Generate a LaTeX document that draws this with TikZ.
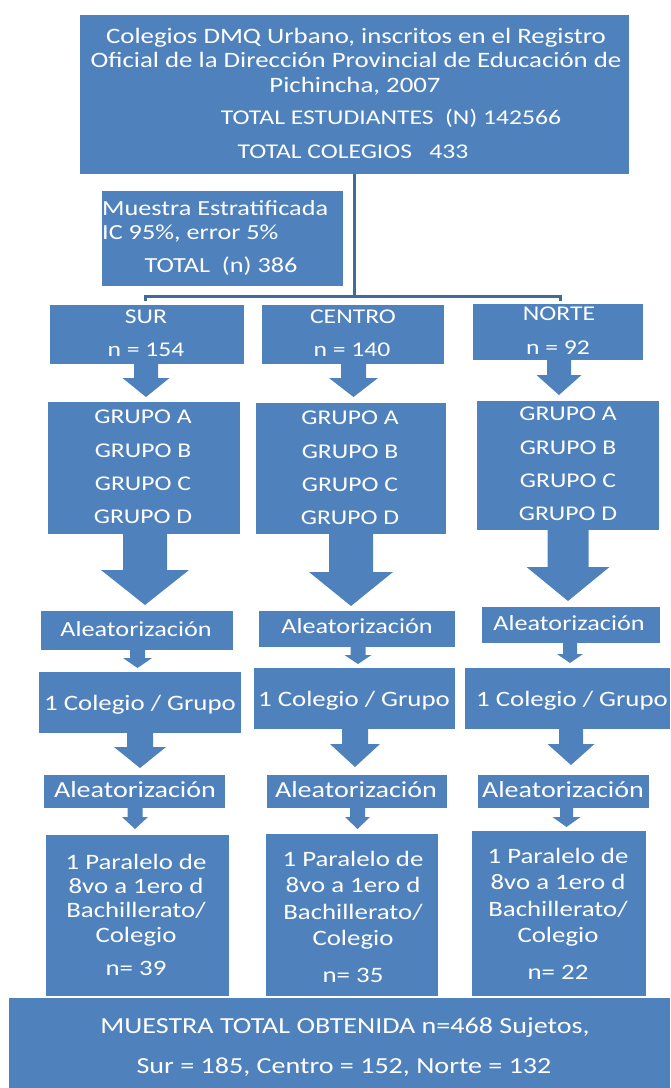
\documentclass[tikz,border=0pt]{standalone}
\usepackage{fontspec}
\setmainfont{Carlito}[FakeStretch=1.22]
\usetikzlibrary{fit}
\definecolor{boxblue}{HTML}{4F81BD}
\definecolor{linkblue}{HTML}{3E6A9C}
\newcommand\bx[5]{\node[box, fit={(#2,#3) (#4,#5)}] (#1) {};}
\newcommand\tx[5]{\node[txt, font=\fontsize{#4}{#4}\selectfont] (#1) at (#2,#3+0.322*#4) {#5};}
\newcommand\txl[5]{\node[txt, anchor=base west, font=\fontsize{#4}{#4}\selectfont] (#1) at (#2,#3+0.322*#4) {#5};}
\newcommand\barrow[6]{\fill[blockarrow] (#1-#2,#4) -- (#1+#2,#4) -- (#1+#2,#5) -- (#1+#3,#5) -- (#1,#6) -- (#1-#3,#5) -- (#1-#2,#5) -- cycle;}
\begin{document}
\begin{tikzpicture}[x=1pt,y=-1pt,
  box/.style={fill=boxblue, draw=none, inner sep=0pt},
  txt/.style={text=white, inner sep=0pt, anchor=base},
  link/.style={draw=linkblue, line width=3pt},
  blockarrow/.style={fill=boxblue}]
\useasboundingbox (0,0) rectangle (670,1088);
% boxes
\bx{top}{80}{15}{629}{174}
\bx{muestra}{102}{191}{343}{286}
\bx{sur}{50}{305}{244}{364}
\bx{centro}{262}{305}{444}{364}
\bx{norte}{473}{304}{643}{360}
\bx{gsur}{48}{402}{240}{534}
\bx{gcentro}{256}{403}{446}{534}
\bx{gnorte}{477}{401}{659}{530}
\bx{asur}{41}{611}{233}{650}
\bx{acentro}{259}{611}{455}{647}
\bx{anorte}{482}{607}{660}{643}
\bx{csur}{39}{672}{241}{733}
\bx{ccentro}{254}{668}{455}{729}
\bx{cnorte}{465}{668}{670}{729}
\bx{bsur}{44}{775}{225}{808}
\bx{bcentro}{267}{775}{447}{808}
\bx{bnorte}{478}{775}{649}{808}
\bx{psur}{46}{835}{229}{996}
\bx{pcentro}{266}{834}{438}{996}
\bx{pnorte}{472}{831}{646}{996}
\bx{total}{9}{998}{670}{1088}
% connectors
\coordinate (split) at (354.5,296);
\coordinate (lend) at (145,296);
\coordinate (rend) at (560,296);
\draw[link] (top.south) -- (split);
\draw[link] ([yshift=-5pt]lend) -- (lend) -- (rend) -- ([yshift=-5pt]rend);
% block arrows: x, shaft half, head half, top, head start, tip
\barrow{146}{12}{23.5}{364}{378}{397}
\barrow{353.5}{12.5}{24.5}{364}{378}{397}
\barrow{559}{12}{22.5}{360}{375}{395}
\barrow{145}{22}{44}{534}{570}{605}
\barrow{351}{22}{42}{534}{572}{606}
\barrow{568}{20.5}{41.5}{530}{567}{601}
\barrow{137.5}{7.5}{14.5}{650}{658}{668}
\barrow{358}{7.5}{13.5}{647}{655}{664}
\barrow{570}{7}{13}{643}{654}{663}
\barrow{140}{13}{26}{733}{747}{768}
\barrow{355}{13}{25}{729}{744}{767}
\barrow{571}{12}{23.5}{729}{744}{765}
\barrow{135}{7.5}{13}{808}{817}{829}
\barrow{357.5}{7.5}{12.5}{808}{817}{829}
\barrow{566.5}{6.5}{14}{808}{817}{827}
% texts
\tx{t1}{356}{36}{22}{Colegios DMQ Urbano, inscritos en el Registro}
\tx{t2}{356}{60}{22}{Oficial de la Dirección Provincial de Educación de}
\tx{t3}{355}{85}{22}{Pichincha, 2007}
\tx{t4}{391}{118}{21}{TOTAL ESTUDIANTES\ \ (N) 142566}
\tx{t5}{353}{152}{21}{TOTAL COLEGIOS\ \ \ 433}
\txl{m1}{102}{209}{21.5}{Muestra Estratificada}
\txl{m2}{102}{233}{21.5}{IC 95\%, error 5\%}
\tx{m3}{221}{266}{21.5}{TOTAL\ \ (n) 386}
\tx{s1}{146}{317}{21}{SUR}
\tx{s2}{146}{350}{21}{n = 154}
\tx{c1}{353}{317}{21}{CENTRO}
\tx{c2}{352}{350}{21}{n = 140}
\tx{n1}{559}{314}{21}{NORTE}
\tx{n2}{558}{348}{21}{n = 92}
\tx{gs1}{143}{417}{21}{GRUPO A}
\tx{gs2}{143}{451}{21}{GRUPO B}
\tx{gs3}{143}{484}{21}{GRUPO C}
\tx{gs4}{143}{517}{21}{GRUPO D}
\tx{gc1}{350}{418}{21}{GRUPO A}
\tx{gc2}{350}{452}{21}{GRUPO B}
\tx{gc3}{350}{485}{21}{GRUPO C}
\tx{gc4}{350}{518}{21}{GRUPO D}
\tx{gn1}{568}{414}{21}{GRUPO A}
\tx{gn2}{568}{448}{21}{GRUPO B}
\tx{gn3}{568}{481}{21}{GRUPO C}
\tx{gn4}{568}{514}{21}{GRUPO D}
\tx{as}{136}{630}{21.5}{Aleatorización}
\tx{ac}{357}{627}{21.5}{Aleatorización}
\tx{an}{569}{624}{21.5}{Aleatorización}
\tx{cs}{140}{703}{22}{1 Colegio / Grupo}
\tx{cc}{354}{699}{22}{1 Colegio / Grupo}
\tx{cn}{572}{699}{22}{1 Colegio / Grupo}
\tx{bs}{135}{790}{23}{Aleatorización}
\tx{bc}{356}{790}{23}{Aleatorización}
\tx{bn}{563}{790}{23}{Aleatorización}
\tx{ps1}{136}{862}{22}{1 Paralelo de}
\tx{ps2}{136}{886}{22}{8vo a 1ero d}
\tx{ps3}{136}{910}{22}{Bachillerato/}
\tx{ps4}{136}{935}{22}{Colegio}
\tx{ps5}{136}{968}{22}{n= 39}
\tx{pc1}{353}{859}{22}{1 Paralelo de}
\tx{pc2}{353}{885}{22}{8vo a 1ero d}
\tx{pc3}{353}{912}{22}{Bachillerato/}
\tx{pc4}{353}{938}{22}{Colegio}
\tx{pc5}{353}{975}{22}{n= 35}
\tx{pn1}{558}{856}{22}{1 Paralelo de}
\tx{pn2}{558}{882}{22}{8vo a 1ero d}
\tx{pn3}{558}{909}{22}{Bachillerato/}
\tx{pn4}{558}{935}{22}{Colegio}
\tx{pn5}{558}{972}{22}{n= 22}
\tx{b1}{345}{1026}{23}{MUESTRA TOTAL OBTENIDA n=468 Sujetos,}
\tx{b2}{344}{1066}{23}{Sur = 185, Centro = 152, Norte = 132}
\end{tikzpicture}
\end{document}
